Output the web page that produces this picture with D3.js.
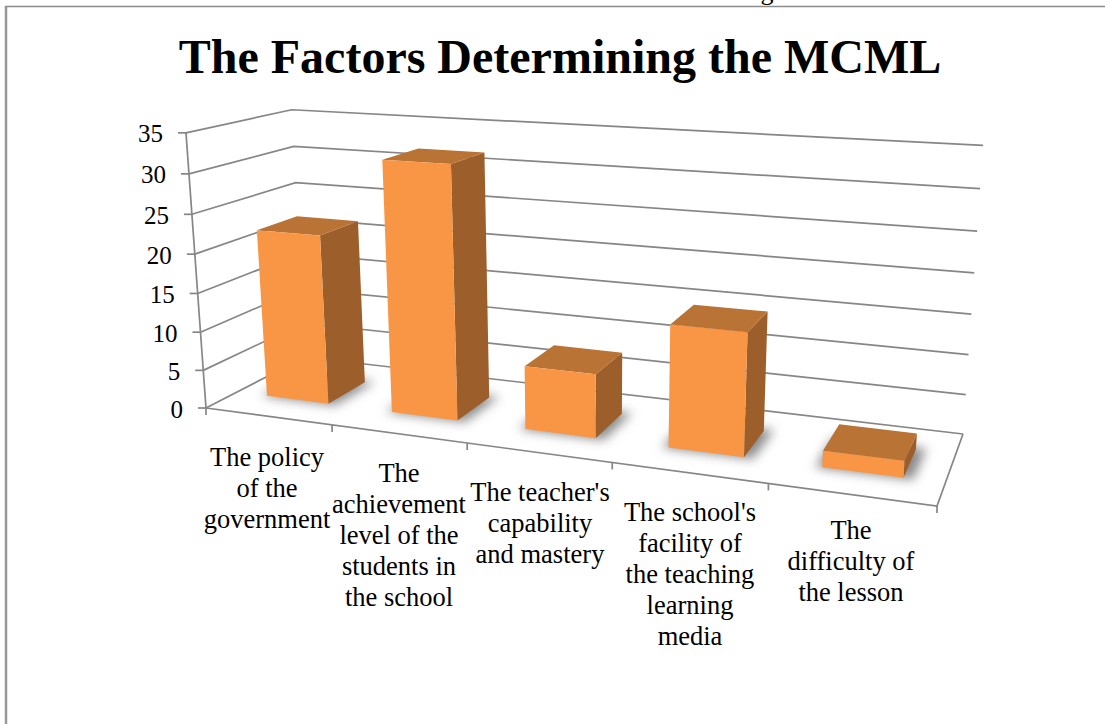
<!DOCTYPE html>
<html><head><meta charset="utf-8">
<script src="https://cdn.jsdelivr.net/npm/d3@7/dist/d3.min.js"></script>
<style>html,body{margin:0;padding:0;background:#fff}svg{display:block}text{font-family:"Liberation Serif",serif;fill:#000}</style>
</head><body><svg id="c" width="1105" height="724"></svg>
<script>
const categories = ["The policy of the government","The achievement level of the students in the school","The teacher's capability and mastery","The school's facility of the teaching learning media","The difficulty of the lesson"];
const categoryLines = [["The policy","of the","government"],["The","achievement","level of the","students in","the school"],["The teacher's","capability","and mastery"],["The school's","facility of","the teaching","learning","media"],["The","difficulty of","the lesson"]];
const values = [22,32,8,15,2];
const tickValues = [0,5,10,15,20,25,30,35];
const labelCentreX = [267,399,540,690,851];
const labelTopY = [458,474,493,513,531];

const floorQuad = [[206,408],[937,506],[963,434],[305,357]];
const vanish = [593.6,5737];
const alpha = -0.0491;
function homography(q){
  const [[x0,y0],[x1,y1],[x2,y2],[x3,y3]]=q;
  const dx1=x1-x2,dx2=x3-x2,sx=x0-x1+x2-x3,dy1=y1-y2,dy2=y3-y2,sy=y0-y1+y2-y3;
  const den=dx1*dy2-dx2*dy1,g=(sx*dy2-dx2*sy)/den,h=(dx1*sy-sx*dy1)/den;
  const a=x1-x0+g*x1,b=x3-x0+h*x3,d=y1-y0+g*y1,e=y3-y0+h*y3;
  return (u,v)=>{const w=g*u+h*v+1;return [a*u+b*v+x0,d*u+e*v+y0,w];};
}
const H0=homography(floorQuad);
const xBand=d3.scaleBand().domain(categories).range([0,1]).paddingInner(0.5).paddingOuter(0.25);
const yT=d3.scaleLinear().domain([0,35]).range([0,1]);
const depth=d3.scaleLinear().domain([0,1]).range([0.29,0.69]);
function P(u,v,val){const [X,Y,w]=H0(u,v),k=alpha*yT(val),W=w+k;return [(X+k*vanish[0])/W,(Y+k*vanish[1])/W];}
const line=d3.line();
const svg=d3.select("#c");
const defs=svg.append("defs");
defs.append("filter").attr("id","blur").attr("x","-40%").attr("y","-40%").attr("width","180%").attr("height","180%")
  .append("feGaussianBlur").attr("stdDeviation",5.5);
const GRID="#868686";

svg.append("path").attr("d","M6,724V6").attr("fill","none").attr("stroke","#999").attr("stroke-width",2.5);
svg.append("path").attr("d","M5,6.5H1105").attr("fill","none").attr("stroke","#8c8c8c").attr("stroke-width",1.5);
svg.append("text").attr("x",767).attr("y",0).attr("font-size",26).attr("text-anchor","middle").text("g");
svg.append("text").attr("x",560).attr("y",73).attr("text-anchor","middle").attr("font-size",48).attr("font-weight","bold").text("The Factors Determining the MCML");

const wall=svg.append("g").attr("fill","none").attr("stroke",GRID).attr("stroke-width",1.7);
wall.selectAll("path.g").data(tickValues).join("path").attr("class","g")
  .attr("d",d=>line([P(0,0,d),P(0,1,d),P(1,1,d)]));
wall.append("path").attr("d",line([P(0,0,0),P(0,0,35)]));
wall.append("path").attr("d",line([P(0,0,0),P(1,0,0),P(1,1,0)]));
wall.selectAll("path.t").data(tickValues).join("path").attr("class","t")
  .attr("d",d=>{const p=P(0,0,d);return line([p,[p[0]-8,p[1]]]);});
const edges=[0,...categories.map((c,i)=>(i+1)/categories.length)];
wall.selectAll("path.x").data(edges).join("path").attr("class","x")
  .attr("d",d=>{const p=P(d,0,0);return line([p,[p[0],p[1]+7]]);});

svg.append("g").selectAll("text").data(tickValues).join("text")
  .attr("x",d=>P(0,0,d)[0]-23).attr("y",d=>P(0,0,d)[1]+9.5).attr("text-anchor","end").attr("font-size",25).text(d=>d);

const bars=categories.map((c,i)=>{
  const u0=xBand(c),u1=u0+xBand.bandwidth(),v0=depth(0),v1=depth(1),val=values[i];
  return {val,
    fp:[P(u0-.008,v0-.01,0),P(u1+.012,v0-.01,0),P(u1+.012,v1+.03,0),P(u0-.008,v1+.03,0)],
    front:[P(u0,v0,0),P(u1,v0,0),P(u1,v0,val),P(u0,v0,val)],
    side:[P(u1,v0,0),P(u1,v1,0),P(u1,v1,val),P(u1,v0,val)],
    top:[P(u0,v0,val),P(u1,v0,val),P(u1,v1,val),P(u0,v1,val)]};
});
const closed=a=>line(a)+"Z";
svg.append("g").attr("filter","url(#blur)").selectAll("path").data(bars).join("path")
  .attr("d",d=>closed(d.fp)).attr("fill","#8a8a8a");
const gb=svg.append("g").selectAll("g").data(bars).join("g");
gb.append("path").attr("d",d=>closed(d.side)).attr("fill","#9C5F2B");
gb.append("path").attr("d",d=>closed(d.top)).attr("fill","#B97334");
gb.append("path").attr("d",d=>closed(d.front)).attr("fill","#F99645");

const gl=svg.append("g").selectAll("text").data(categoryLines).join("text")
  .attr("text-anchor","middle").attr("font-size",26.5);
gl.each(function(lines,i){
  d3.select(this).selectAll("tspan").data(lines).join("tspan")
    .attr("x",labelCentreX[i]).attr("y",(d,j)=>labelTopY[i]+8+j*31).text(d=>d);
});
</script></body></html>
